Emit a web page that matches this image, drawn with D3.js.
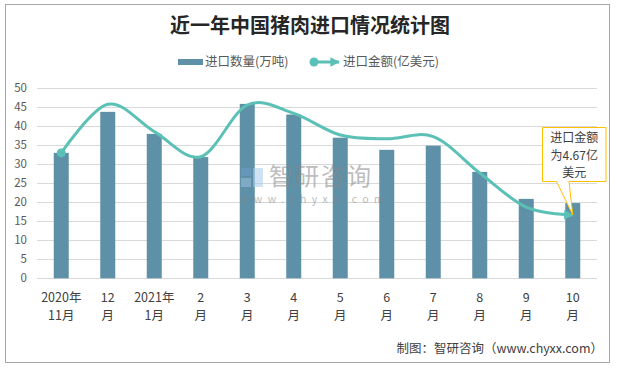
<!DOCTYPE html>
<html><head><meta charset="utf-8">
<script src="https://cdn.jsdelivr.net/npm/d3@7"></script>
<style>
html,body{margin:0;padding:0;background:#fff;}
svg{display:block;font-family:"Noto Sans CJK SC","Noto Sans",sans-serif;}
</style></head>
<body><svg id="chart" width="621" height="369"></svg>
<script>
const title = "近一年中国猪肉进口情况统计图";
const categories = ["2020年11月","12月","2021年1月","2月","3月","4月","5月","6月","7月","8月","9月","10月"];
const labelLine1 = ["2020年","12","2021年","2","3","4","5","6","7","8","9","10"];
const labelLine2 = ["11月","月","1月","月","月","月","月","月","月","月","月","月"];
const volume = [33.0, 43.8, 38.0, 31.9, 45.9, 43.1, 37.0, 33.8, 34.9, 28.0, 20.9, 19.8]; // 万吨
const amount = [9.24, 12.82, 10.81, 8.96, 12.77, 12.15, 10.56, 10.28, 10.44, 7.76, 5.24, 4.67]; // 亿美元
const yTicks = [0,5,10,15,20,25,30,35,40,45,50];
const seriesNames = ["进口数量(万吨)", "进口金额(亿美元)"];
const calloutLines = ["进口金额", "为4.67亿", "美元"];
const footer = "制图：智研咨询（www.chyxx.com）";

const barColor = "#5E90A7", lineColor = "#5BC0B5", gridColor = "#D9D9D9", textColor = "#595959";

const svg = d3.select("#chart");
svg.append("rect").attr("x",5.5).attr("y",4.5).attr("width",604).attr("height",358)
  .attr("fill","#fff").attr("stroke","#A6A6A6").attr("stroke-width",1);

const x = d3.scaleBand().domain(categories).range([38,596]).padding(0);
const y = d3.scaleLinear().domain([0,50]).range([278.3,88.3]);
const y2 = d3.scaleLinear().domain([0,14]).range([278.3,88.3]);
const barW = 15;

svg.append("g").selectAll("line").data(yTicks).join("line")
  .attr("x1",37).attr("x2",597)
  .attr("y1",d=>Math.round(y(d))+0.5).attr("y2",d=>Math.round(y(d))+0.5)
  .attr("stroke",gridColor).attr("stroke-width",1);

svg.append("g").selectAll("text").data(yTicks).join("text")
  .attr("x",27).attr("y",d=>y(d)).attr("dy","0.35em").attr("text-anchor","end")
  .attr("font-size",11.5).attr("fill",textColor).text(d=>d);

svg.append("g").selectAll("rect").data(volume).join("rect")
  .attr("x",(d,i)=>x(categories[i])+x.bandwidth()/2-barW/2)
  .attr("width",barW)
  .attr("y",d=>y(d)).attr("height",d=>y(0)-y(d))
  .attr("fill",barColor);

// watermark
const wm = svg.append("g").attr("opacity",0.55);
wm.append("rect").attr("x",241).attr("y",168).attr("width",10).attr("height",8).attr("fill","#6E9CC9");
wm.append("rect").attr("x",241).attr("y",178).attr("width",10).attr("height",9).attr("fill","#9DBFE0");
wm.append("rect").attr("x",253).attr("y",168).attr("width",10).attr("height",19).attr("fill","#A9CBEA");
wm.append("text").attr("x",269).attr("y",185).attr("font-size",24).attr("letter-spacing",2).attr("fill","#888").text("智研咨询");
wm.append("text").attr("x",240).attr("y",203).attr("font-size",10.5).attr("letter-spacing",5.4).attr("fill","#888").text("www.chyxx.com");

const defs = svg.append("defs");
["arrow","arrowLeg"].forEach(id=>{
  defs.append("marker").attr("id",id).attr("viewBox","0 0 10 10").attr("refX",9).attr("refY",5)
    .attr("markerWidth",3.2).attr("markerHeight",3.2).attr("orient","auto")
    .append("path").attr("d","M0,0 L10,5 L0,10 z").attr("fill",lineColor);
});

const line = d3.line()
  .x((d,i)=>x(categories[i])+x.bandwidth()/2)
  .y(d=>y2(d))
  .curve(d3.curveCatmullRom.alpha(0));
svg.append("path").datum(amount).attr("d",line)
  .attr("fill","none").attr("stroke",lineColor).attr("stroke-width",3)
  .attr("marker-end","url(#arrow)");
svg.append("circle").attr("cx",x(categories[0])+x.bandwidth()/2).attr("cy",y2(amount[0]))
  .attr("r",4.5).attr("fill",lineColor);

const xl = svg.append("g").selectAll("g").data(categories).join("g")
  .attr("transform",(d)=>`translate(${x(d)+x.bandwidth()/2},0)`);
xl.append("text").attr("y",302).attr("text-anchor","middle").attr("font-size",12.5).attr("fill","#404040")
  .text((d,i)=>labelLine1[i]);
xl.append("text").attr("y",320).attr("text-anchor","middle").attr("font-size",12.5).attr("fill","#404040")
  .text((d,i)=>labelLine2[i]);

const last = amount.length-1;
const tipX = x(categories[last])+x.bandwidth()/2, tipY = y2(amount[last]);
const bx0=542.5, bx1=606, by0=127.5, by1=181.5;
svg.append("path")
  .attr("d",`M${bx0},${by0} L${bx1},${by0} L${bx1},${by1} L569,${by1} L${tipX},${tipY} L556.5,${by1} L${bx0},${by1} Z`)
  .attr("fill","#fff").attr("stroke","#FFC000").attr("stroke-width",1);
svg.append("g").selectAll("text").data(calloutLines).join("text")
  .attr("x",(bx0+bx1)/2).attr("y",(d,i)=>142+i*17.5).attr("text-anchor","middle")
  .attr("font-size",12).attr("fill","#404040").text(d=>d);

svg.append("text").attr("x",310).attr("y",33).attr("text-anchor","middle")
  .attr("font-size",20).attr("font-weight","bold").attr("fill","#262626").text(title);

svg.append("rect").attr("x",178).attr("y",59).attr("width",25).attr("height",6).attr("fill",barColor);
svg.append("text").attr("x",205).attr("y",62).attr("dy","0.35em").attr("font-size",12.5).attr("fill",textColor).text(seriesNames[0]);
svg.append("line").attr("x1",313).attr("x2",339).attr("y1",62).attr("y2",62)
  .attr("stroke",lineColor).attr("stroke-width",3).attr("marker-end","url(#arrowLeg)");
svg.append("circle").attr("cx",314).attr("cy",62).attr("r",4.5).attr("fill",lineColor);
svg.append("text").attr("x",343).attr("y",62).attr("dy","0.35em").attr("font-size",12.5).attr("fill",textColor).text(seriesNames[1]);

svg.append("text").attr("x",603).attr("y",353).attr("text-anchor","end")
  .attr("font-size",12.5).attr("fill","#404040").text(footer);
</script></body></html>
